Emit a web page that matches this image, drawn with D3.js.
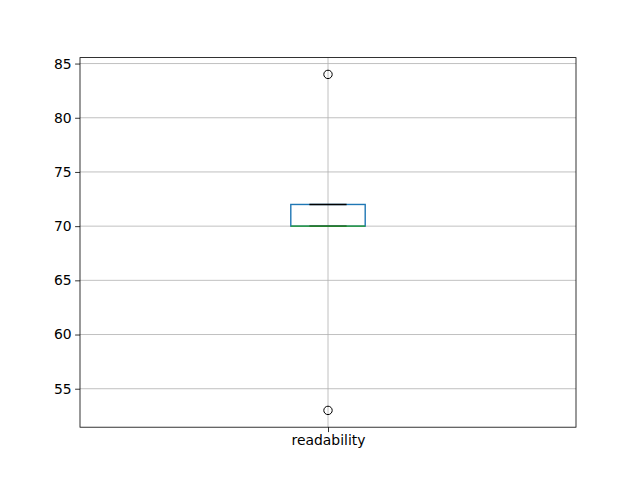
<!DOCTYPE html>
<html><head><meta charset="utf-8">
<script src="https://cdn.jsdelivr.net/npm/d3@7"></script>
<style>body{margin:0;background:#fff}svg{display:block}text{font-family:"DejaVu Sans",sans-serif}</style>
</head><body>
<script>
const categories = ["readability"];
const q1 = [70];
const medians = [70];
const q3 = [72];
const whiskerLow = [70];
const whiskerHigh = [72];
const outliers = [[84, 53]];
const yTicks = [55, 60, 65, 70, 75, 80, 85];

const W = 640, H = 480;
const m = {left: 80, right: 576, top: 57.6, bottom: 427.2};
const svg = d3.select("body").append("svg").attr("width", W).attr("height", H);

const y = d3.scaleLinear().domain([51.45, 85.55]).range([m.bottom, m.top]);
const x = d3.scaleLinear().domain([0.5, 1.5]).range([m.left, m.right]);
const boxW = 0.15, capW = boxW / 2;

// grid
const g = svg.append("g");
g.selectAll(".hg").data(yTicks).enter().append("line")
  .attr("x1", m.left).attr("x2", m.right)
  .attr("y1", d => y(d)).attr("y2", d => y(d))
  .attr("stroke", "#b0b0b0").attr("stroke-width", 0.8);
categories.forEach((c, i) => {
  g.append("line").attr("x1", x(i + 1)).attr("x2", x(i + 1))
    .attr("y1", m.top).attr("y2", m.bottom)
    .attr("stroke", "#b0b0b0").attr("stroke-width", 0.8);
});

// boxes
categories.forEach((c, i) => {
  const p = i + 1;
  const bg = svg.append("g");
  // whiskers
  bg.append("line").attr("x1", x(p)).attr("x2", x(p)).attr("y1", y(q1[i])).attr("y2", y(whiskerLow[i])).attr("stroke", "#1f77b4");
  bg.append("line").attr("x1", x(p)).attr("x2", x(p)).attr("y1", y(q3[i])).attr("y2", y(whiskerHigh[i])).attr("stroke", "#1f77b4");
  // box
  bg.append("rect").attr("x", x(p - boxW / 2)).attr("width", x(p + boxW / 2) - x(p - boxW / 2))
    .attr("y", y(q3[i])).attr("height", y(q1[i]) - y(q3[i]))
    .attr("fill", "none").attr("stroke", "#1f77b4").attr("stroke-width", 1.4);
  // caps
  [whiskerLow[i], whiskerHigh[i]].forEach(v => {
    bg.append("line").attr("x1", x(p - capW / 2)).attr("x2", x(p + capW / 2))
      .attr("y1", y(v)).attr("y2", y(v)).attr("stroke", "#000").attr("stroke-width", 1.4);
  });
  // median
  bg.append("line").attr("x1", x(p - boxW / 2)).attr("x2", x(p + boxW / 2))
    .attr("y1", y(medians[i])).attr("y2", y(medians[i])).attr("stroke", "#2ca02c").attr("stroke-width", 1.4);
  // outliers
  bg.selectAll("circle").data(outliers[i]).enter().append("circle")
    .attr("cx", x(p)).attr("cy", d => y(d)).attr("r", 4.2)
    .attr("fill", "none").attr("stroke", "#000").attr("stroke-width", 1);
});

// axes
const yAxis = d3.axisLeft(y).tickValues(yTicks).tickSize(4.9).tickPadding(3.5);
const ya = svg.append("g").attr("transform", `translate(${m.left},0)`).call(yAxis);
const xAxis = d3.axisBottom(x).tickValues(categories.map((c, i) => i + 1))
  .tickFormat((d, i) => categories[i]).tickSize(4.9).tickPadding(3.5);
const xa = svg.append("g").attr("transform", `translate(0,${m.bottom})`).call(xAxis);
[ya, xa].forEach(a => {
  a.select(".domain").remove();
  a.selectAll("text").attr("font-size", "13.9px").attr("fill", "#000").attr("font-family", "DejaVu Sans");
  a.selectAll(".tick line").attr("stroke", "#000").attr("stroke-width", 0.8);
});

// frame
svg.append("rect").attr("x", m.left).attr("y", m.top).attr("width", m.right - m.left).attr("height", m.bottom - m.top)
  .attr("fill", "none").attr("stroke", "#000").attr("stroke-width", 0.8);
</script>
</body></html>
